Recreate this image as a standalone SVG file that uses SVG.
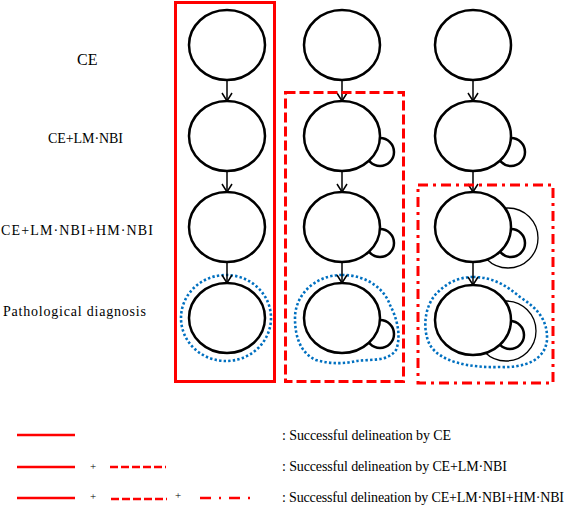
<svg xmlns="http://www.w3.org/2000/svg" width="567" height="506" viewBox="0 0 567 506">
<style>
.lbl{font-family:"Liberation Serif","Times New Roman",serif;font-size:14px;fill:#000}
.c{fill:#fff;stroke:#000;stroke-width:2.5}
.big{fill:#fff;stroke:#000;stroke-width:1.3}
.ar{stroke:#000;stroke-width:1.5;fill:none}
.box{fill:none;stroke:#ff0000;stroke-width:3}
.blue{fill:none;stroke:#0070c0;stroke-width:2.6;stroke-dasharray:2.4 2.2}
</style>
<defs>
<marker id="ah" viewBox="0 0 12 12" refX="11" refY="6" markerWidth="12" markerHeight="12" markerUnits="userSpaceOnUse" orient="auto">
<path d="M3,1 L11,6 L3,11" fill="none" stroke="#000" stroke-width="1.5"/>
</marker>
</defs>
<rect width="567" height="506" fill="#fff"/>
<g id="labels">
<text class="lbl" x="77" y="65" style="font-size:16px">CE</text>
<text class="lbl" x="48" y="143" textLength="75" lengthAdjust="spacing">CE+LM·NBI</text>
<text class="lbl" x="1" y="235" textLength="152" lengthAdjust="spacing">CE+LM·NBI+HM·NBI</text>
<text class="lbl" x="3" y="316" textLength="143" lengthAdjust="spacing">Pathological diagnosis</text>
</g>
<g id="col1">
<g id="c1r1"><ellipse class="c" cx="227" cy="45" rx="38" ry="35"/></g>
<g id="c1r2"><ellipse class="c" cx="227" cy="136" rx="38" ry="35"/></g>
<g id="c1r3"><ellipse class="c" cx="227" cy="227" rx="38" ry="35"/></g>
<g id="c1r4"><ellipse class="c" cx="227" cy="318" rx="38" ry="35"/><ellipse class="blue" cx="226" cy="318" rx="45" ry="43"/></g>
</g>
<g id="col2">
<g id="c2r1"><ellipse class="c" cx="342" cy="45" rx="38" ry="35"/></g>
<g id="c2r2"><circle class="c" cx="380" cy="152" r="14"/><ellipse class="c" cx="342" cy="136" rx="38" ry="35"/></g>
<g id="c2r3"><circle class="c" cx="380" cy="243" r="14"/><ellipse class="c" cx="342" cy="227" rx="38" ry="35"/></g>
<g id="c2r4"><circle class="c" cx="380" cy="334" r="14"/><ellipse class="c" cx="342" cy="318" rx="38" ry="35"/>
<path class="blue" d="M342,275 C368,275 385,290 390,305 C396,316 402,335 396,350 C388,362 370,359 356,361 C344,364 330,364 316,360 C300,353 295,336 295,318 C295,295 315,275 342,275 Z"/></g>
</g>
<g id="col3">
<g id="c3r1"><ellipse class="c" cx="473" cy="45" rx="38" ry="35"/></g>
<g id="c3r2"><circle class="c" cx="511" cy="152" r="14"/><ellipse class="c" cx="473" cy="136" rx="38" ry="35"/></g>
<g id="c3r3"><circle class="big" cx="508" cy="238" r="30"/><circle class="c" cx="511" cy="243" r="14"/><ellipse class="c" cx="473" cy="227" rx="38" ry="35"/></g>
<g id="c3r4"><circle class="big" cx="506" cy="331" r="30"/><circle class="c" cx="510" cy="335" r="14"/><ellipse class="c" cx="473" cy="320" rx="38" ry="35"/>
<path class="blue" d="M473,277 C492,277 506,285 520,297 C535,307 548,318 547,340 C545,360 525,368 500,367 C470,368 440,362 430,345 C422,330 424,305 438,292 C448,282 460,277 473,277 Z"/></g>
</g>
<g id="connectors">
<line class="ar" x1="227" y1="80" x2="227" y2="101" marker-end="url(#ah)"/>
<line class="ar" x1="227" y1="171" x2="227" y2="192" marker-end="url(#ah)"/>
<line class="ar" x1="227" y1="262" x2="227" y2="283" marker-end="url(#ah)"/>
<line class="ar" x1="342" y1="80" x2="342" y2="101" marker-end="url(#ah)"/>
<line class="ar" x1="342" y1="171" x2="342" y2="192" marker-end="url(#ah)"/>
<line class="ar" x1="342" y1="262" x2="342" y2="283" marker-end="url(#ah)"/>
<line class="ar" x1="473" y1="80" x2="473" y2="101" marker-end="url(#ah)"/>
<line class="ar" x1="473" y1="171" x2="473" y2="192" marker-end="url(#ah)"/>
<line class="ar" x1="473" y1="262" x2="473" y2="285" marker-end="url(#ah)"/>
</g>
<g id="boxes">
<rect class="box" x="175.5" y="2.5" width="99" height="379"/>
<rect class="box" x="285.5" y="92.5" width="118" height="289" style="stroke-dasharray:10 4"/>
<rect class="box" x="418" y="185" width="135" height="198" style="stroke-dasharray:10 5 3 5"/>
</g>
<g id="legend">
<line x1="17" y1="435" x2="75" y2="435" stroke="#ff0000" stroke-width="2.5"/>
<line x1="17" y1="467" x2="75" y2="467" stroke="#ff0000" stroke-width="2.5"/>
<text class="lbl" x="90" y="470" style="font-size:11px">+</text>
<line x1="110" y1="467" x2="166" y2="467" stroke="#ff0000" stroke-width="2.5" stroke-dasharray="8 3"/>
<line x1="17" y1="498" x2="75" y2="498" stroke="#ff0000" stroke-width="2.5"/>
<text class="lbl" x="90" y="500" style="font-size:11px">+</text>
<line x1="111" y1="499" x2="167" y2="499" stroke="#ff0000" stroke-width="2.5" stroke-dasharray="8 3"/>
<text class="lbl" x="175" y="499" style="font-size:11px">+</text>
<line x1="200" y1="498" x2="250" y2="498" stroke="#ff0000" stroke-width="2.5" stroke-dasharray="11 8 2 8"/>
<text class="lbl" x="282" y="440" textLength="169" lengthAdjust="spacing">: Successful delineation by CE</text>
<text class="lbl" x="282" y="471" textLength="225" lengthAdjust="spacing">: Successful delineation by CE+LM·NBI</text>
<text class="lbl" x="282" y="502" textLength="282" lengthAdjust="spacing">: Successful delineation by CE+LM·NBI+HM·NBI</text>
</g>
</svg>
